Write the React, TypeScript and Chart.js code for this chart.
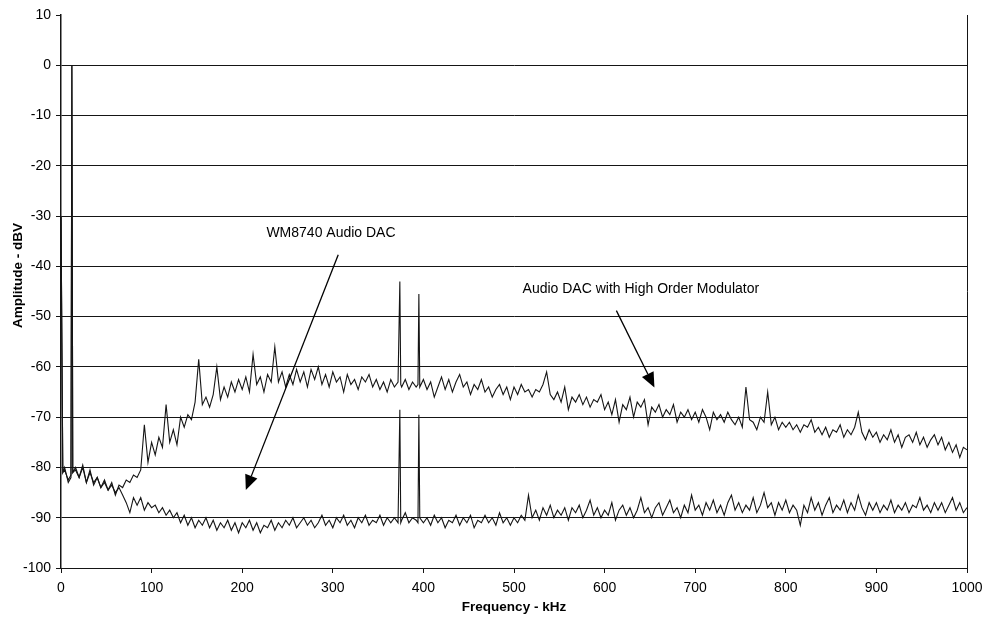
import React, { useEffect, useRef } from "react";
import { Chart, registerables } from "chart.js";

Chart.register(...registerables);

// Frequency sample points (kHz)
const freqs = [
  0, 2, 4, 8, 11, 12, 13, 16, 20, 24,
  28, 32, 36, 40, 44, 48, 52, 56, 60, 64,
  68, 72, 76, 80, 84, 88, 92, 96, 100, 104,
  108, 112, 116, 120, 124, 128, 132, 136, 140, 144,
  148, 152, 156, 160, 164, 168, 172, 176, 180, 184,
  188, 192, 196, 200, 204, 208, 212, 216, 220, 224,
  228, 232, 236, 240, 244, 248, 252, 256, 260, 264,
  268, 272, 276, 280, 284, 288, 292, 296, 300, 304,
  308, 312, 316, 320, 324, 328, 332, 336, 340, 344,
  348, 352, 356, 360, 364, 368, 372, 373, 374, 375,
  376, 380, 384, 388, 392, 394, 395, 396, 400, 404,
  408, 412, 416, 420, 424, 428, 432, 436, 440, 444,
  448, 452, 456, 460, 464, 468, 472, 476, 480, 484,
  488, 492, 496, 500, 504, 508, 512, 516, 520, 524,
  528, 532, 536, 540, 544, 548, 552, 556, 560, 564,
  568, 572, 576, 580, 584, 588, 592, 596, 600, 604,
  608, 612, 616, 620, 624, 628, 632, 636, 640, 644,
  648, 652, 656, 660, 664, 668, 672, 676, 680, 684,
  688, 692, 696, 700, 704, 708, 712, 716, 720, 724,
  728, 732, 736, 740, 744, 748, 752, 756, 760, 764,
  768, 772, 776, 780, 784, 788, 792, 796, 800, 804,
  808, 812, 816, 820, 824, 828, 832, 836, 840, 844,
  848, 852, 856, 860, 864, 868, 872, 876, 880, 884,
  888, 892, 896, 900, 904, 908, 912, 916, 920, 924,
  928, 932, 936, 940, 944, 948, 952, 956, 960, 964,
  968, 972, 976, 980, 984, 988, 992, 996, 1000,
];

// Audio DAC with High Order Modulator (dBV)
const highOrderDac = [
  -30, -81, -80, -83, -82, 0, -81, -80, -82, -79.5,
  -83, -80.5, -83.5, -82, -84, -82.5, -84.5, -83, -85.5, -83.5,
  -84, -82.5, -83, -81.5, -82, -80.5, -71.5, -79, -75, -77.5,
  -74, -76, -67.5, -75, -72.5, -75.5, -70, -72, -69.5, -70.5,
  -67, -58.5, -67.5, -66, -68, -65.5, -60, -66.5, -64, -66,
  -63, -65, -62.5, -64.5, -62, -65, -57.5, -63.5, -62, -65,
  -61.5, -63, -56, -63, -61, -64, -61.5, -63.5, -60.5, -63,
  -61, -64, -60.5, -62.5, -60, -63.5, -61.5, -64, -61, -63,
  -62, -65, -61.5, -63.5, -62.5, -64.5, -62, -63, -61.5, -64,
  -62.5, -64.5, -63, -65, -62.5, -64, -63, -63, -43, -63.5,
  -64, -62.5, -64.5, -63, -64, -63.5, -45.5, -64, -62.5, -64.5,
  -63, -66, -64, -62, -64.5, -62.5, -65, -63, -61.5, -64,
  -63, -65.5, -63.5, -64.5, -62.5, -65, -64, -66, -64.5, -63.5,
  -65.5, -64, -66.5, -64, -65.5, -63.5, -65, -64.5, -66, -64.5,
  -65, -63.5, -61, -65.5, -66.5, -65, -67, -64, -68.5, -66,
  -67, -65.5, -67.5, -66, -68, -66.5, -67, -65.5, -68.5, -67,
  -69.5, -66.5, -71, -67.5, -68.5, -66, -70, -67, -68, -66.5,
  -71.5, -68, -69, -67.5, -70, -68.5, -69.5, -67.5, -71, -69,
  -70, -68.5, -70.5, -69, -71, -68.5, -70, -72.5, -69, -70.5,
  -69.5, -71, -69, -70.5, -71.5, -70, -72, -64, -70.5, -71,
  -72.5, -70, -71, -65, -71.5, -70, -72.5, -71, -72, -71,
  -72.5, -71.5, -73, -71.5, -72, -70.5, -73, -72, -73.5, -72,
  -74, -72.5, -73, -71.5, -74, -72.5, -73.5, -72, -69, -73,
  -74.5, -72.5, -74, -73, -75, -73.5, -74.5, -72.5, -75, -73.5,
  -76, -74, -73.5, -75, -73, -75.5, -74, -76, -74.5, -73.5,
  -75.5, -74, -76.5, -75, -77, -75.5, -78, -76, -76.5,
];

// WM8740 Audio DAC (dBV)
const wm8740Dac = [
  -30, -81, -80.5, -82.5, -81.5, 0, -81, -80.5, -82, -80,
  -83, -81, -83, -82, -84, -83, -84.5, -83.5, -85, -84,
  -85.5, -87, -89, -86, -87.5, -86, -88.5, -87, -88, -87.5,
  -89, -88, -89.5, -88.5, -90, -89, -91, -89.5, -91.5, -90,
  -92, -90.5, -91.5, -90, -92, -90.5, -92.5, -91, -92, -90.5,
  -92.5, -91, -93, -91, -92, -90.5, -92.5, -91, -93, -91.5,
  -92, -90.5, -92.5, -91, -92, -90.5, -91.5, -90, -92, -91,
  -90, -91.5, -90.5, -92, -91, -89.5, -91.5, -90.5, -92, -90,
  -91, -89.5, -91.5, -90.5, -92, -90, -91, -89.5, -91.5, -90.5,
  -91, -89.5, -91.5, -90, -91, -90, -91, -91, -68.5, -91,
  -90.5, -89, -91, -90, -90.5, -91, -69.5, -90, -91, -90,
  -91.5, -89.5, -91, -90, -92, -90.5, -91, -89.5, -91.5, -90,
  -91, -89.5, -92, -90.5, -91, -89.5, -91, -90, -91.5, -89,
  -91, -90, -91.5, -90, -91, -89.5, -90.5, -85.5, -90, -88.5,
  -90.5, -88, -89.5, -87.5, -90, -88.5, -89.5, -88, -90.5, -88,
  -89, -87.5, -90, -88.5, -86.5, -89.5, -88, -90, -88.5, -89.5,
  -87, -90.5, -88.5, -87.5, -89.5, -88, -90, -88.5, -86, -89,
  -88, -90, -88, -87, -89.5, -88, -86.5, -89, -88, -90,
  -87.5, -89, -85.5, -88.5, -87.5, -89.5, -87, -88.5, -86.5, -89,
  -87.5, -89.5, -87, -85.5, -88.5, -87, -89, -87.5, -88.5, -86,
  -89, -87.5, -85, -88, -87, -89.5, -87, -88.5, -86.5, -89,
  -87.5, -88.5, -91.5, -87.5, -89, -86, -88.5, -87, -89.5, -87.5,
  -86, -89, -87.5, -88.5, -86.5, -89, -87, -88.5, -85.5, -88,
  -89.5, -87, -88.5, -87, -89, -87.5, -88.5, -86.5, -89, -87.5,
  -88.5, -87, -89, -87.5, -88, -86, -88.5, -87.5, -89, -87,
  -88.5, -87, -89, -87.5, -86, -88.5, -87, -89, -88,
];

const yTickValues = [10, 0, -10, -20, -30, -40, -50, -60, -70, -80, -90, -100];

// Annotations in data units
const annotationLabels = ["WM8740 Audio DAC", "Audio DAC with High Order Modulator"];
const annotationText = [
  [298, -33.3],
  [640, -44.6],
];
const annotationArrows = [
  [306, -37.7, 204, -84.5],
  [613, -48.8, 655, -64.1],
];

const FONT = "'Liberation Sans', Arial, Helvetica, sans-serif";
const INK = "#151515";

export default function App() {
  const canvasRef = useRef<HTMLCanvasElement | null>(null);

  useEffect(() => {
    if (!canvasRef.current) return;

    const extras = {
      id: "extras",
      afterDatasetsDraw(chart: any) {
        const { ctx, chartArea } = chart;
        const xs = chart.scales.x;
        const ys = chart.scales.y;
        ctx.save();
        // right border
        ctx.strokeStyle = INK;
        ctx.lineWidth = 1;
        ctx.beginPath();
        ctx.moveTo(Math.round(chartArea.right) + 0.5, chartArea.top);
        ctx.lineTo(Math.round(chartArea.right) + 0.5, chartArea.bottom);
        ctx.stroke();

        // annotations
        ctx.fillStyle = "#000";
        ctx.font = `14px ${FONT}`;
        ctx.textAlign = "center";
        ctx.textBaseline = "middle";
        annotationLabels.forEach((label, i) => {
          const [tx, ty] = annotationText[i];
          ctx.fillText(label, xs.getPixelForValue(tx), ys.getPixelForValue(ty));
          const [fx, fy, gx, gy] = annotationArrows[i];
          const x1 = xs.getPixelForValue(fx);
          const y1 = ys.getPixelForValue(fy);
          const x2 = xs.getPixelForValue(gx);
          const y2 = ys.getPixelForValue(gy);
          const ang = Math.atan2(y2 - y1, x2 - x1);
          const len = 15;
          const hw = 6.5;
          const bx = x2 - len * Math.cos(ang);
          const by = y2 - len * Math.sin(ang);
          ctx.strokeStyle = "#000";
          ctx.lineWidth = 1.3;
          ctx.beginPath();
          ctx.moveTo(x1, y1);
          ctx.lineTo(bx, by);
          ctx.stroke();
          ctx.beginPath();
          ctx.moveTo(x2, y2);
          ctx.lineTo(bx + hw * Math.sin(ang), by - hw * Math.cos(ang));
          ctx.lineTo(bx - hw * Math.sin(ang), by + hw * Math.cos(ang));
          ctx.closePath();
          ctx.fill();
        });

        // axis titles
        ctx.font = `bold 13.5px ${FONT}`;
        ctx.fillStyle = "#000";
        ctx.textAlign = "center";
        ctx.textBaseline = "middle";
        ctx.fillText("Frequency - kHz", (chartArea.left + chartArea.right) / 2, chartArea.bottom + 39);
        ctx.translate(18, (chartArea.top + chartArea.bottom) / 2 - 16);
        ctx.rotate(-Math.PI / 2);
        ctx.fillText("Amplitude - dBV", 0, 0);
        ctx.restore();
      },
    };

    const chart = new Chart(canvasRef.current, {
      type: "line",
      data: {
        datasets: [
          {
            label: "Audio DAC with High Order Modulator",
            data: freqs.map((f, i) => ({ x: f, y: highOrderDac[i] })),
            borderColor: INK,
            borderWidth: 1.1,
            pointRadius: 0,
            tension: 0,
            fill: false,
          },
          {
            label: "WM8740 Audio DAC",
            data: freqs.map((f, i) => ({ x: f, y: wm8740Dac[i] })),
            borderColor: INK,
            borderWidth: 1.1,
            pointRadius: 0,
            tension: 0,
            fill: false,
          },
        ],
      },
      options: {
        animation: false,
        responsive: true,
        maintainAspectRatio: false,
        layout: { padding: { top: 15, right: 18, left: 0, bottom: 0 } },
        plugins: {
          legend: { display: false },
          tooltip: { enabled: false },
        },
        scales: {
          x: {
            type: "linear",
            min: 0,
            max: 1000,
            afterFit: (s: any) => {
              s.height = 56;
              s.paddingLeft = 0;
              s.paddingRight = 0;
            },
            ticks: {
              stepSize: 100,
              color: "#000",
              padding: 7,
              maxRotation: 0,
              font: { family: FONT, size: 14 },
              callback: (v: any) => String(v),
            },
            grid: {
              drawOnChartArea: false,
              drawTicks: true,
              tickLength: 5,
              color: INK,
            },
            border: { display: true, color: INK, width: 1 },
          },
          y: {
            type: "linear",
            min: -100,
            max: 10,
            afterFit: (s: any) => {
              s.width = 61;
              s.paddingTop = 0;
              s.paddingBottom = 0;
            },
            afterBuildTicks: (s: any) => {
              s.ticks = yTickValues.map((v) => ({ value: v }));
            },
            ticks: {
              color: "#000",
              padding: 5,
              font: { family: FONT, size: 14 },
            },
            grid: {
              color: (c: any) => (c.tick && c.tick.value === 10 ? "rgba(0,0,0,0)" : INK),
              tickColor: INK,
              tickLength: 5,
              lineWidth: 1,
            },
            border: { display: true, color: INK, width: 1.5 },
          },
        },
      },
      plugins: [extras],
    });

    return () => {
      chart.destroy();
    };
  }, []);

  return (
    <div style={{ position: "absolute", left: 0, top: 0, width: 985, height: 624, background: "#fff" }}>
      <canvas ref={canvasRef} />
    </div>
  );
}
